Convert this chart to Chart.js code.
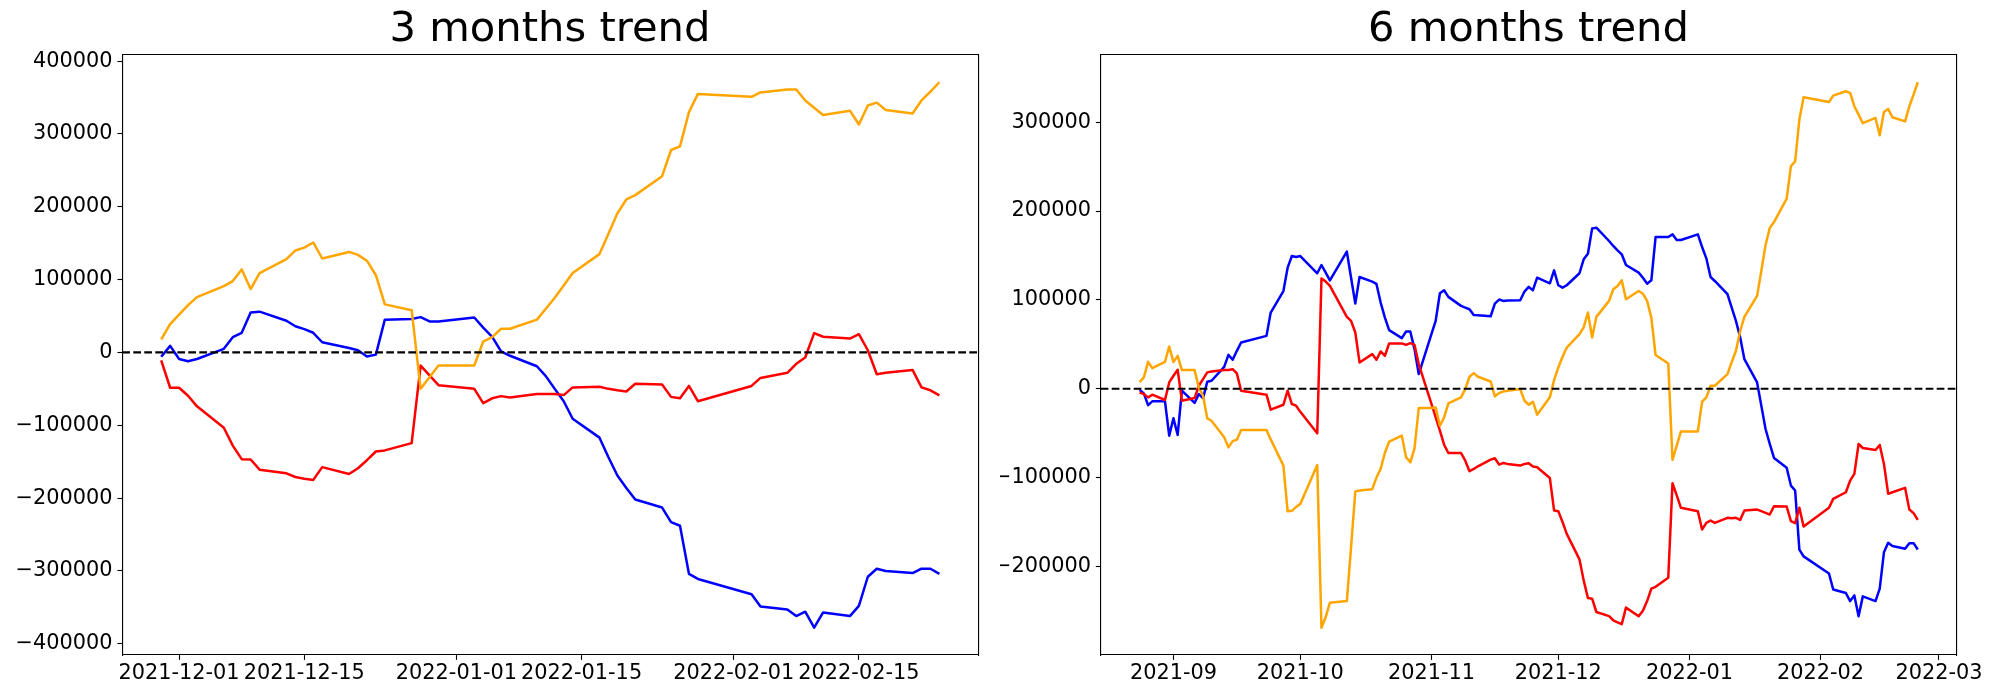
<!DOCTYPE html>
<html>
<head>
<meta charset="utf-8">
<script src="https://cdn.jsdelivr.net/npm/chart.js@4.4.1/dist/chart.umd.min.js"></script>
<style>
  html, body { margin: 0; padding: 0; background: #ffffff; overflow: hidden; width: 2000px; height: 700px; }
  .box { position: absolute; top: 0; height: 700px; }
  canvas { display: block; }
</style>
</head>
<body>
<div class="box" style="left:0px;width:1100px"><canvas id="c3" width="1100" height="700"></canvas></div>
<div class="box" style="left:1000px;width:1057px"><canvas id="c6" width="1057" height="700"></canvas></div>
<script>
// ---------------- DATA ----------------
const title3 = '3 months trend';
const title6 = '6 months trend';

const dates3 = [
  '2021-11-29','2021-11-30','2021-12-01','2021-12-02','2021-12-03','2021-12-06','2021-12-07','2021-12-08','2021-12-09','2021-12-10',
  '2021-12-13','2021-12-14','2021-12-15','2021-12-16','2021-12-17','2021-12-20','2021-12-21','2021-12-22','2021-12-23','2021-12-24',
  '2021-12-27','2021-12-28','2021-12-29','2021-12-30',
  '2022-01-03','2022-01-04','2022-01-05','2022-01-06','2022-01-07','2022-01-10','2022-01-11','2022-01-12','2022-01-13','2022-01-14',
  '2022-01-17','2022-01-18','2022-01-19','2022-01-20','2022-01-21','2022-01-24','2022-01-25','2022-01-26','2022-01-27','2022-01-28',
  '2022-02-03','2022-02-04','2022-02-07','2022-02-08','2022-02-09','2022-02-10','2022-02-11','2022-02-14','2022-02-15','2022-02-16',
  '2022-02-17','2022-02-18','2022-02-21','2022-02-22','2022-02-23','2022-02-24'
];
const blue3 = [
  -6000, 9000, -9000, -12000, -9000, 5000, 21000, 27000, 55000, 56000,
  43500, 36000, 32000, 27000, 14000, 6000, 3000, -5500, -3000, 45000,
  46000, 48500, 42600, 42600,
  48000, 34000, 21500, 1400, -4600, -19000, -32500, -50000, -67000, -91000,
  -117000, -144000, -169000, -186000, -202000, -213000, -233000, -238000, -304000, -311000,
  -332000, -349000, -353000, -362000, -356000, -378000, -357000, -362000, -348000, -308000,
  -297000, -300000, -303000, -297000, -297000, -304000
];
const red3 = [
  -11000, -48500, -48500, -59500, -74000, -103500, -128000, -146500, -147000, -161000,
  -166000, -171000, -173500, -175000, -157500, -167000, -159000, -148000, -136000, -134500,
  -124500, -18000, -31600, -45000,
  -50000, -69600, -63000, -60000, -62000, -57000, -57000, -57000, -58600, -48000,
  -47000, -50000, -52000, -53600, -43000, -44000, -61000, -63000, -46000, -67000,
  -46000, -35000, -28000, -15600, -7000, 26500, 21500, 19000, 25000, 3000,
  -30000, -28000, -24000, -48000, -52000, -59000
];
const orange3 = [
  18000, 39000, 52000, 65000, 76000, 91000, 98000, 114000, 87000, 109000,
  128000, 140000, 144000, 151000, 129000, 138000, 134000, 126000, 106000, 66000,
  58000, -50000, -34000, -18000,
  -18000, 15000, 21000, 32500, 32500, 45000, 60000, 75000, 92000, 109000,
  135000, 163000, 191000, 210000, 216000, 242000, 278000, 283000, 330000, 355000,
  351000, 357000, 361000, 361000, 346000, 336000, 326000, 332000, 313000, 339000,
  343000, 333000, 328000, 346000, 358000, 371000
];

const datesEarly6 = [
  '2021-08-24','2021-08-25','2021-08-26','2021-08-27','2021-08-30','2021-08-31',
  '2021-09-01','2021-09-02','2021-09-03','2021-09-06','2021-09-07','2021-09-08','2021-09-09','2021-09-10',
  '2021-09-13','2021-09-14','2021-09-15','2021-09-16','2021-09-17','2021-09-23','2021-09-24',
  '2021-09-27','2021-09-28','2021-09-29','2021-09-30',
  '2021-10-01','2021-10-05','2021-10-06','2021-10-07','2021-10-08','2021-10-12','2021-10-13','2021-10-14','2021-10-15',
  '2021-10-18','2021-10-19','2021-10-20','2021-10-21','2021-10-22','2021-10-25','2021-10-26','2021-10-27','2021-10-28','2021-10-29',
  '2021-11-01','2021-11-02','2021-11-03','2021-11-04','2021-11-05','2021-11-08','2021-11-09','2021-11-10','2021-11-11','2021-11-12',
  '2021-11-15','2021-11-16','2021-11-17','2021-11-18','2021-11-19','2021-11-22','2021-11-23','2021-11-24','2021-11-25','2021-11-26'
];
const dates6 = datesEarly6.concat(dates3);

const blue6 = [
  -1500, -5200, -18400, -14200, -14200, -52800,
  -33300, -52000, -2200, -16000, -6000, -10500, 7900, 9000,
  24700, 38200, 32600, 42700, 52000, 59500, 85800,
  110000, 136300, 149400, 148300,
  149400, 130000, 139300, 130700, 122000, 154300, 125000, 96000, 125800,
  120600, 118000, 97000, 80000, 66000, 57000, 64400, 64400, 44600, 16500,
  61400, 76400, 107500, 110900, 103400, 93300, 91400, 89500, 83000, 82800,
  81600, 95900, 100400, 98900, 99200, 99600, 109400, 114600, 110900, 125000,
  118700, 133300, 116500, 113800, 116500, 130000, 145700, 152000, 180500, 181300,
  166300, 160700, 155800, 151300, 139300, 130700, 125000, 118300, 122000, 170800,
  170800, 173800, 167400, 167400,
  173800, 159500, 146800, 125800, 121300, 106400, 91400, 76400, 58000, 33300,
  7100, -19000, -45300, -62000, -77900, -89000, -109000, -114600, -181000, -188700,
  -208000, -226000, -230000, -239000, -232600, -256000, -233700, -239000, -225000, -184000,
  -173400, -177000, -180000, -173800, -173800, -181000
];
const red6 = [
  -4100, -6000, -9700, -6700, -12700, 7100,
  14600, 21300, -13500, -10500, 3400, 10900, 18400, 19500,
  21000, 21000, 22000, 17200, -2200, -6700, -23600,
  -18000, -2200, -17200, -19100,
  -26000, -50200, 124000, 120600, 115700, 80900, 76400, 63300, 29600,
  39000, 32600, 42000, 37000, 51000, 51000, 49400, 51300, 49400, 27700,
  -17000, -32000, -47200, -63000, -72300, -72300, -81000, -92900, -90300, -87300,
  -79800, -78300, -85400, -83500, -84600, -86500, -84600, -83900, -87600, -88400,
  -100400, -137000, -137800, -150000, -163300, -192000, -215700, -235600, -236300, -251300,
  -256000, -260600, -263000, -265000, -246400, -256000, -250000, -239000, -225000, -223000,
  -212700, -106400, -120000, -134000,
  -138000, -158400, -151000, -148300, -151000, -145300, -145700, -145300, -147600, -137000,
  -136000, -137800, -139700, -141600, -132200, -132600, -149000, -151300, -134000, -155000,
  -134000, -124000, -116500, -103400, -95900, -62200, -66700, -68900, -63300, -84600,
  -118300, -116500, -111600, -136000, -140000, -147600
];
const orange6 = [
  7500, 12700, 30300, 23200, 30300, 47600,
  30000, 37000, 21000, 21000, 1500, -7900, -33300, -36000,
  -54700, -66000, -59000, -57300, -46400, -46400, -57000,
  -86500, -138000, -137400, -133000,
  -129600, -85800, -269000, -257000, -240800, -239000, -178000, -115700, -114500,
  -113000, -100000, -90000, -72000, -59500, -52800, -77000, -82800, -67000, -21700,
  -21700, -21000, -41600, -32200, -16500, -9700, -400, 13500, 17600, 13500,
  8200, -8600, -4900, -3000, -2200, -400, -13500, -18000, -14600, -29200,
  -9700, 9700, 24000, 36000, 46400, 61400, 69000, 85800, 57700, 80900,
  98900, 112000, 115700, 122000, 100700, 110000, 107000, 98900, 80000, 38000,
  28500, -80000, -64000, -48000,
  -48000, -14600, -9700, 3400, 3400, 16500, 30000, 42700, 65000, 81000,
  104500, 132600, 161800, 181000, 187600, 214000, 250500, 256000, 303000, 328000,
  322800, 330000, 334800, 333000, 318000, 308600, 299000, 304800, 285400, 311600,
  315000, 305600, 301000, 318000, 331000, 345000
];

const yTicks3 = [-400000, -300000, -200000, -100000, 0, 100000, 200000, 300000, 400000];
const yTicks6 = [-200000, -100000, 0, 100000, 200000, 300000];
const xTicks3 = ['2021-12-01', '2021-12-15', '2022-01-01', '2022-01-15', '2022-02-01', '2022-02-15'];
const xTickLabels3 = ['2021-12-01', '2021-12-15', '2022-01-01', '2022-01-15', '2022-02-01', '2022-02-15'];
const xTicks6 = ['2021-09-01', '2021-10-01', '2021-11-01', '2021-12-01', '2022-01-01', '2022-02-01', '2022-03-01'];
const xTickLabels6 = ['2021-09', '2021-10', '2021-11', '2021-12', '2022-01', '2022-02', '2022-03'];

const seriesColors = { blue: '#0000ff', red: '#ff0000', orange: '#ffa500' };

// ---------------- RENDER ----------------
const FONT = "'DejaVu Sans', 'Liberation Sans', sans-serif";
const LINE_W = 2.5;

function toDay(s) {
  const p = s.split('-').map(Number);
  return Date.UTC(p[0], p[1] - 1, p[2]) / 86400000;
}
function fmtY(v) {
  return v < 0 ? '\u2212' + Math.abs(v) : String(v);
}

function makeChart(canvasId, dates, series, yTicks, xTickDates, xTickLabels, titleText, leftW, rightW) {
  const xs = dates.map(toDay);
  const x0 = xs[0], x1 = xs[xs.length - 1];
  const xMin = x0 - 0.05 * (x1 - x0), xMax = x1 + 0.05 * (x1 - x0);
  const all = [0];
  series.forEach(s => s.values.forEach(v => all.push(v)));
  const lo = Math.min(...all), hi = Math.max(...all);
  const yMin = lo - 0.05 * (hi - lo), yMax = hi + 0.05 * (hi - lo);
  const xTickVals = xTickDates.map(toDay);

  const datasets = [{
    label: 'zero',
    data: [{ x: xMin, y: 0 }, { x: xMax, y: 0 }],
    borderColor: '#000000', borderWidth: 2.2, borderDash: [7.7, 3.3],
    pointRadius: 0, tension: 0, fill: false, order: 0
  }];
  series.forEach((s, k) => {
    datasets.push({
      label: s.name,
      data: xs.map((x, i) => ({ x: x, y: s.values[i] })),
      borderColor: s.color, borderWidth: LINE_W,
      borderJoinStyle: 'round', borderCapStyle: 'butt',
      pointRadius: 0, pointHoverRadius: 0, tension: 0, fill: false,
      order: 1 + k
    });
  });

  const tickGrid = { display: true, drawOnChartArea: false, drawTicks: true, tickLength: 4.86, tickWidth: 1.11, tickColor: '#000000', color: '#000000' };
  const border = { display: true, color: '#000000', width: 1.11 };
  const tickFont = { family: FONT, size: 20.83 };

  return new Chart(document.getElementById(canvasId), {
    type: 'line',
    data: { datasets: datasets },
    options: {
      responsive: false, animation: false, devicePixelRatio: 1,
      parsing: false, normalized: true,
      layout: { padding: 0 },
      events: [],
      plugins: {
        legend: { display: false },
        tooltip: { enabled: false },
        title: {
          display: true, text: titleText, color: '#000000',
          font: { family: FONT, size: 41.67, weight: 'normal', lineHeight: 1 },
          padding: { top: 9.8, bottom: 3.5 }
        }
      },
      scales: {
        x: {
          type: 'linear', position: 'bottom', min: xMin, max: xMax,
          afterBuildTicks: a => { a.ticks = xTickVals.map(v => ({ value: v })); },
          afterFit: a => { a.height = 45; },
          ticks: {
            autoSkip: false, maxRotation: 0, minRotation: 0, padding: 1, color: '#000000', font: tickFont,
            callback: (v, i) => xTickLabels[i]
          },
          grid: tickGrid, border: border
        },
        xt: {
          type: 'linear', position: 'top', min: xMin, max: xMax,
          ticks: { display: false }, grid: { display: false }, border: border,
          afterFit: a => { a.height = 0; }
        },
        y: {
          type: 'linear', position: 'left', min: yMin, max: yMax,
          afterBuildTicks: a => { a.ticks = yTicks.map(v => ({ value: v })); },
          afterFit: a => { a.width = leftW; },
          ticks: { padding: 4.86, color: '#000000', font: tickFont, callback: v => fmtY(v) },
          grid: tickGrid, border: border
        },
        yr: {
          type: 'linear', position: 'right', min: yMin, max: yMax,
          ticks: { display: false }, grid: { display: false }, border: border,
          afterFit: a => { a.width = rightW; }
        }
      }
    }
  });
}

makeChart('c3', dates3, [
  { name: 'blue', color: seriesColors.blue, values: blue3 },
  { name: 'red', color: seriesColors.red, values: red3 },
  { name: 'orange', color: seriesColors.orange, values: orange3 }
].reverse(), yTicks3, xTicks3, xTickLabels3, title3, 122.3, 121.7);

makeChart('c6', dates6, [
  { name: 'blue', color: seriesColors.blue, values: blue6 },
  { name: 'red', color: seriesColors.red, values: red6 },
  { name: 'orange', color: seriesColors.orange, values: orange6 }
].reverse(), yTicks6, xTicks6, xTickLabels6, title6, 100.7, 100.3);
</script>
</body>
</html>
